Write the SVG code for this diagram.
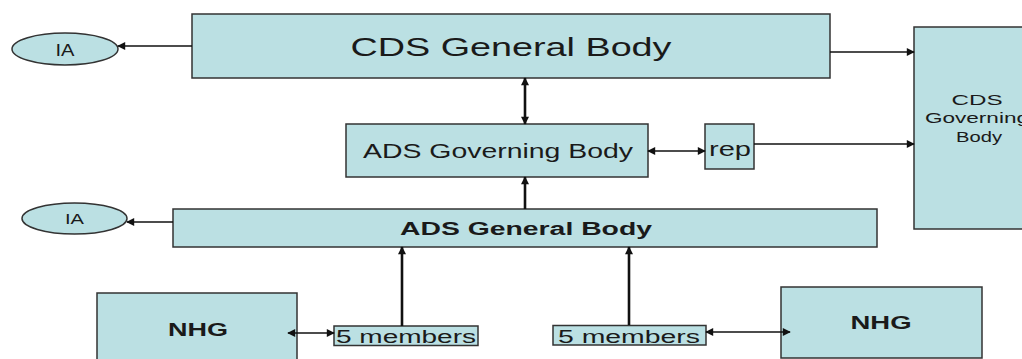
<svg xmlns="http://www.w3.org/2000/svg" width="1022" height="359" viewBox="0 0 1022 359">
<style>
.box{fill:#bbe0e3;stroke:#333;stroke-width:1.5}
.t{font-family:"Liberation Sans",Arial,sans-serif;fill:#1a1a1a;text-anchor:middle}
.c{stroke:#111;stroke-width:1.6;fill:none}
.v{stroke:#111;stroke-width:2.6;fill:none}
</style>
<defs>
<marker id="ah" viewBox="0 0 10 10" refX="9" refY="5" markerWidth="10" markerHeight="8" markerUnits="userSpaceOnUse" orient="auto-start-reverse">
<path d="M0,0 L10,5 L0,10 z" fill="#111"/>
</marker>
</defs>
<rect width="1022" height="359" fill="#fff"/>
<g id="cds-general"><rect class="box" x="192" y="14" width="638" height="64"/><text class="t" x="511" y="56" font-size="25" textLength="321" lengthAdjust="spacingAndGlyphs">CDS General Body</text></g>
<g id="ia-top"><ellipse class="box" cx="65" cy="49" rx="53" ry="16"/><text class="t" x="65" y="56" font-size="17" textLength="19" lengthAdjust="spacingAndGlyphs">IA</text></g>
<g id="cds-governing"><rect class="box" x="914" y="27" width="120" height="202"/><text class="t" x="977" y="105" font-size="15" textLength="51" lengthAdjust="spacingAndGlyphs">CDS</text><text class="t" x="977" y="123" font-size="15" textLength="104" lengthAdjust="spacingAndGlyphs">Governing</text><text class="t" x="979" y="142" font-size="15" textLength="46" lengthAdjust="spacingAndGlyphs">Body</text></g>
<g id="ads-governing"><rect class="box" x="346" y="124" width="302" height="53"/><text class="t" x="498" y="158" font-size="19.5" textLength="270" lengthAdjust="spacingAndGlyphs">ADS Governing Body</text></g>
<g id="rep"><rect class="box" x="705" y="124" width="49" height="45"/><text class="t" x="730" y="156" font-size="19.5" textLength="42" lengthAdjust="spacingAndGlyphs">rep</text></g>
<g id="ads-general"><rect class="box" x="173" y="209" width="704" height="38"/><text class="t" x="526" y="235" font-size="18" font-weight="bold" textLength="252" lengthAdjust="spacingAndGlyphs">ADS General Body</text></g>
<g id="ia-bottom"><ellipse class="box" cx="74.5" cy="218.5" rx="52.5" ry="15.5"/><text class="t" x="74.5" y="224" font-size="14" textLength="19" lengthAdjust="spacingAndGlyphs">IA</text></g>
<g id="nhg-left"><rect class="box" x="97" y="293" width="200" height="80"/><text class="t" x="198" y="336" font-size="18" font-weight="bold" textLength="60" lengthAdjust="spacingAndGlyphs">NHG</text></g>
<g id="members-left"><rect class="box" x="334" y="326" width="144" height="19.5"/><text class="t" x="406" y="343" font-size="17.5" textLength="140" lengthAdjust="spacingAndGlyphs">5 members</text></g>
<g id="members-right"><rect class="box" x="553" y="325.5" width="153" height="19.5"/><text class="t" x="629" y="343" font-size="17.5" textLength="142" lengthAdjust="spacingAndGlyphs">5 members</text></g>
<g id="nhg-right"><rect class="box" x="781" y="287" width="201" height="71"/><text class="t" x="881" y="329" font-size="18" font-weight="bold" textLength="61" lengthAdjust="spacingAndGlyphs">NHG</text></g>
<g id="connectors">
<line class="c" x1="192" y1="46" x2="118" y2="46" marker-end="url(#ah)"/>
<line class="c" x1="830" y1="52" x2="914" y2="52" marker-end="url(#ah)"/>
<line class="c" x1="754" y1="144" x2="914" y2="144" marker-end="url(#ah)"/>
<line class="c" x1="648" y1="151" x2="705" y2="151" marker-start="url(#ah)" marker-end="url(#ah)"/>
<line class="v" x1="525" y1="78" x2="525" y2="124" marker-start="url(#ah)" marker-end="url(#ah)"/>
<line class="v" x1="525" y1="209" x2="525" y2="177" marker-end="url(#ah)"/>
<line class="c" x1="173" y1="222" x2="127" y2="222" marker-end="url(#ah)"/>
<line class="c" x1="288" y1="333" x2="334" y2="333" marker-start="url(#ah)" marker-end="url(#ah)"/>
<line class="v" x1="402" y1="326" x2="402" y2="247" marker-end="url(#ah)"/>
<line class="v" x1="629" y1="325" x2="629" y2="247" marker-end="url(#ah)"/>
<line class="c" x1="706" y1="332" x2="790" y2="332" marker-start="url(#ah)" marker-end="url(#ah)"/>
</g>
</svg>
